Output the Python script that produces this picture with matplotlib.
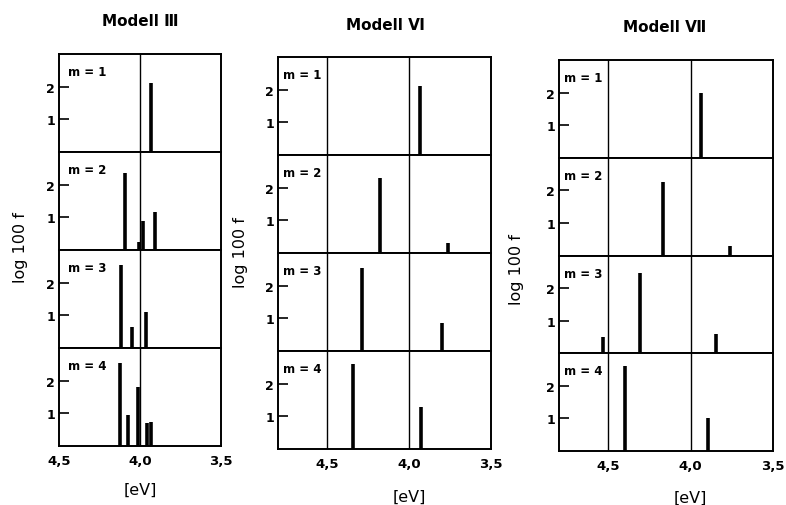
import matplotlib.pyplot as plt

# ---- data ----
model_titles = ["Modell Ⅲ", "Modell Ⅵ", "Modell Ⅶ"]
m_labels = ["m = 1", "m = 2", "m = 3", "m = 4"]

# Modell III : energies [eV] and log 100 f for m = 1..4
e_III = [[3.93], [4.09, 4.005, 3.98, 3.91], [4.115, 4.05, 3.965], [4.125, 4.075, 4.015, 3.955, 3.93]]
f_III = [[2.1], [2.35, 0.25, 0.9, 1.15], [2.55, 0.65, 1.1], [2.55, 0.95, 1.8, 0.7, 0.75]]

# Modell VI
e_VI = [[3.935], [4.18, 3.76], [4.285, 3.80], [4.34, 3.925]]
f_VI = [[2.1], [2.3, 0.3], [2.55, 0.85], [2.6, 1.3]]

# Modell VII
e_VII = [[3.94], [4.17, 3.76], [4.53, 4.31, 3.845], [4.40, 3.895]]
f_VII = [[2.0], [2.25, 0.3], [0.5, 2.45, 0.6], [2.6, 1.0]]

xticks = [4.5, 4.0, 3.5]
xticklabels = ["4,5", "4,0", "3,5"]
yticks = [1, 2]

energies = [e_III, e_VI, e_VII]
logf = [f_III, f_VI, f_VII]
xlims = [(4.5, 3.5), (4.8, 3.5), (4.8, 3.5)]
reflines = [[4.0], [4.5, 4.0], [4.5, 4.0]]

# ---- layout (pixels of the 786x506 figure) ----
W, H = 786, 506
boxes = [(59, 221, 55, 447), (278, 491, 58, 450), (559, 773, 61, 452)]  # left, right, top, bottom
title_pos = [(140, 22), (385, 25), (665, 28)]
ylab_pos = [(20, 248), (240, 253), (516, 270)]
xlab_pos = [(140, 490), (409, 497), (690, 498)]
mlab_x = [0.055, 0.022, 0.022]

fig = plt.figure(figsize=(W / 100, H / 100), dpi=100)

for k in range(3):
    l, r, t, b = boxes[k]
    rowh = (b - t) / 4
    for i in range(4):
        y0 = 1 - (t + (i + 1) * rowh) / H
        ax = fig.add_axes([l / W, y0, (r - l) / W, rowh / H])
        ax.set_xlim(*xlims[k])
        ax.set_ylim(0, 3.0)
        for x in reflines[k]:
            ax.axvline(x, color="black", lw=1.0, zorder=1)
        ax.vlines(energies[k][i], 0, logf[k][i], color="black", lw=2.6, zorder=2)
        ax.set_yticks(yticks)
        ax.set_yticklabels([str(v) for v in yticks], fontsize=9, fontweight="bold")
        ax.tick_params(axis="y", direction="in", length=7, width=1.2, pad=3)
        ax.set_xticks(xticks)
        if i == 3:
            ax.set_xticklabels(xticklabels, fontsize=9.5, fontweight="bold")
            ax.tick_params(axis="x", length=0, pad=6)
        else:
            ax.tick_params(axis="x", length=0, labelbottom=False)
        for s in ax.spines.values():
            s.set_linewidth(1.4)
        ax.text(mlab_x[k], 0.82, m_labels[i], transform=ax.transAxes, fontsize=8.5,
                ha="left", va="center", fontweight="bold",
                bbox=dict(facecolor="white", edgecolor="none", pad=0.5))

    fig.text(title_pos[k][0] / W, 1 - title_pos[k][1] / H, model_titles[k],
             fontsize=11, fontweight="bold", ha="center", va="center")
    fig.text(ylab_pos[k][0] / W, 1 - ylab_pos[k][1] / H, "log 100 f",
             fontsize=11.5, rotation=90, ha="center", va="center")
    fig.text(xlab_pos[k][0] / W, 1 - xlab_pos[k][1] / H, "[eV]",
             fontsize=11.5, ha="center", va="center")

fig.savefig("out.png", dpi=100)
